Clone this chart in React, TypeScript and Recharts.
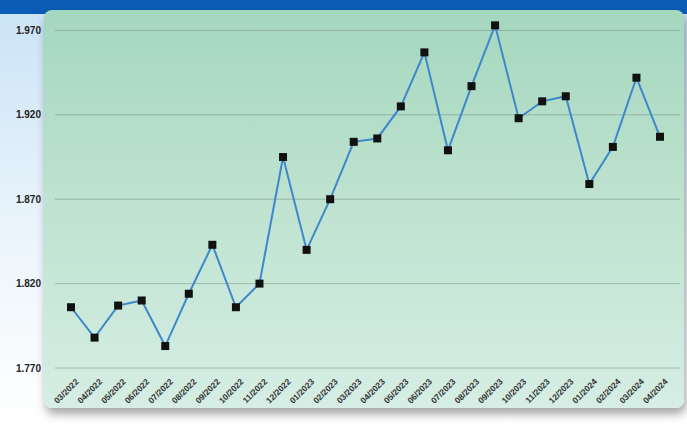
import { LineChart, Line, XAxis, YAxis, CartesianGrid } from "recharts";

const months = [
  "03/2022", "04/2022", "05/2022", "06/2022", "07/2022", "08/2022", "09/2022",
  "10/2022", "11/2022", "12/2022", "01/2023", "02/2023", "03/2023", "04/2023",
  "05/2023", "06/2023", "07/2023", "08/2023", "09/2023", "10/2023", "11/2023",
  "12/2023", "01/2024", "02/2024", "03/2024", "04/2024",
];

const values = [
  1.806, 1.788, 1.807, 1.81, 1.783, 1.814, 1.843, 1.806, 1.82, 1.895, 1.84,
  1.87, 1.904, 1.906, 1.925, 1.957, 1.899, 1.937, 1.973, 1.918, 1.928, 1.931,
  1.879, 1.901, 1.942, 1.907,
];

const yTicks = [1.77, 1.82, 1.87, 1.92, 1.97];

const data = months.map((m, i) => ({ month: m, value: values[i] }));

const SquareDot = (props: any) => {
  const { cx, cy, index } = props;
  if (cx == null || cy == null) return null;
  return <rect key={index} x={cx - 4} y={cy - 4} width={8} height={8} fill="#111" />;
};

export default function App() {
  return (
    <div
      style={{
        position: "fixed",
        left: 0,
        top: 0,
        width: 687,
        height: 426,
        overflow: "hidden",
        background: "linear-gradient(180deg, #c9e3f6 0%, #eef6fc 60%, #ffffff 100%)",
        fontFamily: "Arial, 'Liberation Sans', sans-serif",
      }}
    >
      <div
        style={{
          position: "absolute",
          left: 0,
          top: 0,
          width: 687,
          height: 14,
          background: "#0b5cb5",
        }}
      />
      <div
        style={{
          position: "absolute",
          left: 44,
          top: 10,
          width: 640,
          height: 398,
          borderRadius: 8,
          background: "linear-gradient(180deg, #a5d7be 0%, #bfe3d0 50%, #d6eee5 100%)",
          boxShadow: "2px 6px 10px rgba(0,0,0,0.35)",
        }}
      />
      <div style={{ position: "absolute", left: 0, top: 0 }}>
        <LineChart
          width={687}
          height={426}
          data={data}
          margin={{ top: 22, right: 7, bottom: 8, left: 0 }}
        >
          <CartesianGrid
            horizontal
            vertical={false}
            horizontalValues={yTicks}
            stroke="#7f9a8c"
            strokeOpacity={0.6}
          />
          <XAxis
            dataKey="month"
            interval={0}
            padding={{ left: 16, right: 20 }}
            axisLine={false}
            tickLine={false}
            height={50}
            angle={-45}
            textAnchor="end"
            dx={4}
            dy={2}
            tick={{ fontSize: 8.5, fill: "#333", fontWeight: 700 }}
          />
          <YAxis
            type="number"
            domain={[1.77, 1.975]}
            ticks={yTicks}
            width={55}
            axisLine={false}
            tickLine={false}
            tickFormatter={(v: number) => v.toFixed(3)}
            tick={{ fontSize: 10, fill: "#222", fontWeight: 700, dx: -6 }}
          />
          <Line
            type="linear"
            dataKey="value"
            stroke="#3d88cc"
            strokeWidth={2}
            dot={<SquareDot />}
            activeDot={false}
            isAnimationActive={false}
          />
        </LineChart>
      </div>
    </div>
  );
}
